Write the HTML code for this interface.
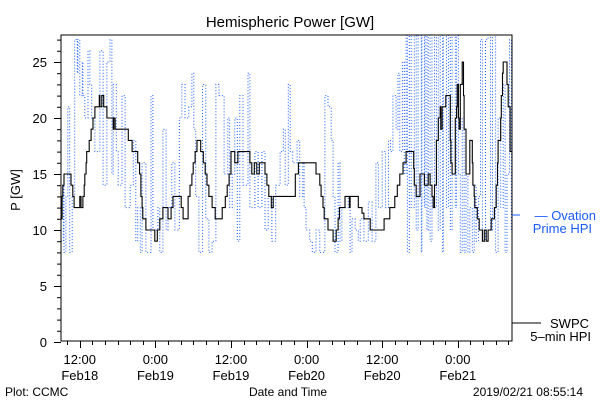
<!DOCTYPE html>
<html><head><meta charset="utf-8"><style>
body{margin:0;background:#fff}
svg{display:block;font-family:"Liberation Sans",sans-serif}
</style></head><body>
<svg id="chart" width="600" height="400" viewBox="0 0 600 400" xmlns="http://www.w3.org/2000/svg">
<rect width="600" height="400" fill="#fff"/>
<defs><clipPath id="plotclip"><rect x="61" y="35" width="451" height="306"/></clipPath></defs>
<text x="290" y="27" font-size="15" text-anchor="middle">Hemispheric Power [GW]</text>
<text transform="translate(20,190) rotate(-90)" font-size="13" text-anchor="middle">P [GW]</text>
<text x="288" y="396" font-size="12" text-anchor="middle">Date and Time</text>
<text x="5" y="396" font-size="12">Plot: CCMC</text>
<text x="583" y="396" font-size="12" text-anchor="end">2019/02/21 08:55:14</text>
<g id="axes"></g>
<g id="series" clip-path="url(#plotclip)"></g>
<rect x="61" y="35" width="451" height="306" fill="none" stroke="#000" stroke-width="1"/>
<g>
<line x1="512" y1="215" x2="520" y2="215" stroke="#1a5cff" stroke-width="1"/>
<text x="596" y="220" font-size="13" fill="#1a5cff" text-anchor="end">— Ovation</text>
<text x="592" y="233" font-size="13" fill="#1a5cff" text-anchor="end">Prime HPI</text>
<line x1="512" y1="323" x2="541" y2="323" stroke="#000" stroke-width="1"/>
<text x="589" y="328" font-size="13" text-anchor="end">SWPC</text>
<text x="591" y="341" font-size="13" text-anchor="end">5–min HPI</text>
</g>
</svg>
<script>
const yTicks=[0,5,10,15,20,25];
const xTickHours=[12,24,36,48,60,72];
const xTickTime=["12:00","0:00","12:00","0:00","12:00","0:00"];
const xTickDate=["Feb18","Feb19","Feb19","Feb20","Feb20","Feb21"];
const swpcHours=[9.0,9.2,9.3,9.5,10.6,10.9,11.1,12.0,12.2,12.5,12.7,12.8,13.0,13.1,13.5,13.8,14.1,14.4,15.1,15.2,15.5,15.8,16.3,17.3,17.4,17.6,19.7,20.3,21.2,21.5,21.7,21.9,22.0,22.5,23.9,24.3,24.7,25.2,26.0,26.5,26.8,28.1,28.4,29.2,29.5,29.8,30.0,30.3,30.6,31.2,31.6,31.9,32.2,32.5,33.0,33.5,34.6,35.1,35.4,35.7,36.0,36.6,37.1,39.0,39.3,39.7,40.1,40.5,41.4,41.7,42.0,42.4,42.7,45.9,46.2,46.7,49.5,50.1,50.3,50.6,50.8,51.4,52.2,52.7,53.0,53.2,54.1,54.8,54.9,56.2,56.8,57.1,58.1,60.3,61.2,62.0,62.4,62.8,63.3,63.8,65.0,65.1,65.4,66.0,66.7,67.3,67.6,67.9,68.1,68.3,68.6,68.9,69.2,69.3,69.5,70.1,70.8,70.9,71.1,71.6,71.8,71.9,72.1,72.2,72.4,72.7,72.9,73.0,73.3,73.9,74.3,74.4,74.6,74.7,75.1,75.4,75.9,76.2,76.5,76.8,77.3,77.8,78.1,78.3,78.4,78.8,78.9,79.1,79.2,79.8,80.0,80.3,80.6];
const swpcValues=[11,13,14,15,14,13,12,13,12,13,14,15,16,17,18,19,20,21,22,21,22,21,20,19,20,19,18,17,16,15,13,12,11,10,9,10,11,12,11,12,13,12,11,13,14,15,16,17,18,17,16,15,14,13,12,11,12,13,14,15,17,16,17,16,15,16,15,16,15,14,13,12,13,13,15,16,15,14,13,12,11,10,9,10,11,12,13,12,13,12,11.5,11,10,11,12,13,14,15,16,17,15.5,14,13,15,14,15,14,13,12,14,18,20,21,19,21,22,18,16,15,20,21,23,20,19,23,25,22,19,15,18,16,14,13,12,11,10,9,10,9,10,11,12,14,16,18,20,22,24,25,23,21,17,18];
const ovationHours=[9.0,9.4,9.5,9.8,10.1,10.4,10.8,11.2,11.6,11.7,12.0,12.4,12.5,12.8,13.3,13.6,13.9,14.4,15.2,15.7,16.3,16.8,17.1,17.3,17.8,18.1,18.7,19.2,20.0,20.5,20.9,21.2,21.6,21.9,22.5,23.3,23.6,24.4,24.7,25.2,25.7,26.0,26.6,27.1,27.8,28.2,28.7,29.3,29.8,30.1,30.4,30.9,31.5,32.0,32.5,33.0,33.6,34.1,34.6,34.9,35.5,35.8,36.2,36.6,37.0,37.4,37.9,38.7,39.0,39.8,40.3,40.9,41.4,41.9,42.5,43.1,43.8,44.3,44.6,45.1,45.4,45.8,46.5,46.9,47.4,47.6,47.9,48.5,48.9,49.5,50.1,50.9,51.4,51.9,52.2,52.5,53.0,53.3,53.6,54.1,54.6,54.9,55.2,55.7,56.2,56.5,57.1,57.8,58.4,59.0,59.4,60.0,60.5,61.0,61.3,61.7,62.2,62.5,62.8,63.2,63.5,63.8,64.0,64.3,64.6,65.1,65.4,65.7,66.2,66.3,66.7,66.8,67.1,67.3,67.6,67.9,68.3,68.6,68.9,69.2,69.6,69.7,70.2,70.5,70.8,71.1,71.6,71.8,72.1,72.4,72.7,73.0,73.3,73.6,73.9,74.3,74.6,74.9,75.3,75.6,75.9,76.4,76.8,77.2,77.5,78.0,78.4,78.8,79.2,79.5,79.8,80.2,80.5,80.6];
const ovationValues=[9,14,8,13,21,8,13,27,24,27,22,25,22,20,26,23,20,17,26,14,25,27,15,23,17,14,22,12,14,18,9,12,8,16,8,22,10,12,8,19,10,12,16,10,20,23,20,21,24,19,13,8,23,11,8,9,23,22,22,15,20,12,15,20,9,22,14,24,12,17,12,17,10,13,9,14,17,19,14,23,17,16,18,13,16,12,10,9,8,10,8,22,21,18,13,8,16,9,12,12,13,8,11,10,9,11,9,12.5,9,16,12,17,12,18,17,22,19,24,17,25,15,28,8,28,12,28,10,28,8,28,12,28,10,28,9,28,12,28,10,28,8,28,12,28,10,28,12,28,15,8,20,8,15,8,12,8,14,9,13,27,9,27,28,10,28,8,20,12,23,8,15,27,10,25];

const X0=61.5,X1=512,H0=9.1,H1=80.6;
const Y0=342,YS=11.2;
function xScale(h){return X0+(h-H0)*(X1-X0)/(H1-H0);}
function yScale(v){return Y0-v*YS;}
const NS="http://www.w3.org/2000/svg";
const axes=document.getElementById('axes');
const series=document.getElementById('series');
function mk(tag,attrs,parent){const e=document.createElementNS(NS,tag);for(const k in attrs)e.setAttribute(k,attrs[k]);parent.appendChild(e);return e;}

for(let v=0;v<=27;v++){
  const y=yScale(v)+0.5;
  const major=v%5===0;
  const t=mk('line',{x1:major?54:57,x2:61,y1:y,y2:y,stroke:'#000'},axes);
  
  
}
yTicks.forEach(v=>{
  const t=mk('text',{x:47,y:yScale(v)+5,'font-size':13,'text-anchor':'end'},axes);
  t.textContent=v;
  
  
});
for(let h=10;h<=80;h+=2){
  const x=Math.round(xScale(h))+0.5;
  const major=h%12===0;
  const t=mk('line',{x1:x,x2:x,y1:341,y2:major?348:345,stroke:'#000'},axes);
  
  
}
xTickHours.forEach((h,i)=>{
  const x=xScale(h);
  const a=mk('text',{x:x,y:364,'font-size':13,'text-anchor':'middle'},axes);
  a.textContent=xTickTime[i];
  
  
  const b=mk('text',{x:x,y:380,'font-size':13,'text-anchor':'middle'},axes);
  b.textContent=xTickDate[i];
  
  
});

let dB='';
ovationHours.forEach((h,i)=>{
  const x=xScale(h).toFixed(1),y=yScale(ovationValues[i]).toFixed(1);
  if(i===0)dB+='M'+x+' '+y;else dB+='H'+x+'V'+y;
});
const pb=mk('path',{d:dB,fill:'none',stroke:'#1a5cff','stroke-width':1,'stroke-dasharray':'1 2'},series);



let dK='';
swpcHours.forEach((h,i)=>{
  const x=xScale(h).toFixed(1),y=yScale(swpcValues[i]).toFixed(1);
  if(i===0)dK+='M'+x+' '+y;else dK+='H'+x+'V'+y;
});
const pk=mk('path',{d:dK,fill:'none',stroke:'#000','stroke-width':1.1},series);


</script>
</body></html>
